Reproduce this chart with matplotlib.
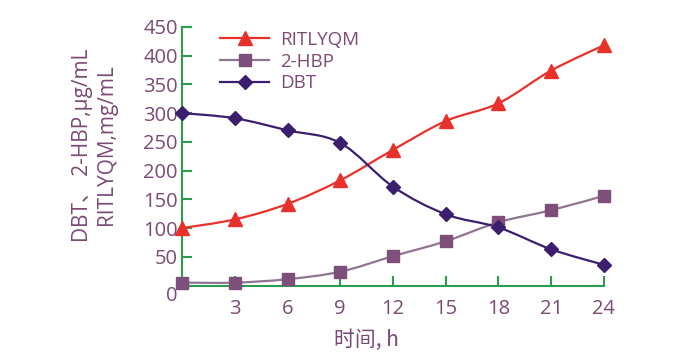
import matplotlib as mpl
import matplotlib.pyplot as plt
import matplotlib.transforms as mtransforms
import numpy as np
from matplotlib.path import Path
from matplotlib.patches import PathPatch

mpl.rcParams["font.family"] = ["Open Sans", "Noto Sans CJK SC", "DejaVu Sans"]
mpl.rcParams["axes.unicode_minus"] = False

hours = [0, 3, 6, 9, 12, 15, 18, 21, 24]
ritlyqm = [100, 115, 142, 183, 236, 286, 317, 374, 418]
hbp = [5, 5, 11, 24, 51, 77, 110, 131, 156]
dbt = [300, 291, 270, 248, 172, 124, 101, 63, 36]
xticks = [3, 6, 9, 12, 15, 18, 21, 24]

txt_color = "#7b4a75"
axis_color = "#2a9d4e"


def smooth_path(x, y, t=0.17):
    # Catmull-Rom style bezier through the points
    x = np.asarray(x, float)
    y = np.asarray(y, float)
    verts = [(x[0], y[0])]
    codes = [Path.MOVETO]
    n = len(x)
    for i in range(n - 1):
        x0, y0 = (x[i - 1], y[i - 1]) if i > 0 else (x[i], y[i])
        x3, y3 = (x[i + 2], y[i + 2]) if i + 2 < n else (x[i + 1], y[i + 1])
        c1 = (x[i] + (x[i + 1] - x0) * t, y[i] + (y[i + 1] - y0) * t)
        c2 = (x[i + 1] - (x3 - x[i]) * t, y[i + 1] - (y3 - y[i]) * t)
        verts += [c1, c2, (x[i + 1], y[i + 1])]
        codes += [Path.CURVE4] * 3
    return Path(verts, codes)


fig = plt.figure(figsize=(6.87, 3.58), dpi=100)
ax = fig.add_axes([0.265, 0.2025, 0.614, 0.7225])

series = [
    ("RITLYQM", ritlyqm, "#e8312a", "#e8312a", "^", 10),
    ("2-HBP", hbp, "#8f7590", "#7d4f7a", "s", 8),
    ("DBT", dbt, "#3b1f6e", "#3b1f6e", "D", 7.5),
]
handles = []
for name, vals, lc, mc, mk, ms in series:
    ax.add_patch(PathPatch(smooth_path(hours, vals), fill=False, edgecolor=lc,
                           lw=1.6, clip_on=False, zorder=2))
    ax.plot(hours, vals, ls="none", marker=mk, ms=ms, color=mc, clip_on=False, zorder=3)
    h, = ax.plot([], [], color=lc, lw=1.6, marker=mk, ms=ms, mfc=mc, mec=mc, label=name)
    handles.append(h)

ax.set_xlim(0, 24)
ax.set_ylim(0, 450)
ax.set_xticks(xticks)
ax.set_yticks(np.arange(0, 451, 50))

for s in ["top", "right"]:
    ax.spines[s].set_visible(False)
for s in ["left", "bottom"]:
    ax.spines[s].set_color(axis_color)
    ax.spines[s].set_linewidth(1.5)

ax.tick_params(axis="both", direction="in", length=7, width=1.5, color=axis_color,
               labelcolor=txt_color, labelsize=14.5)
ax.tick_params(axis="x", pad=10)
ax.tick_params(axis="y", pad=3)

# the "0" label sits a bit lower than its tick
lbl0 = ax.get_yticklabels()[0]
lbl0.set_transform(lbl0.get_transform() + mtransforms.ScaledTranslation(0, -8 / 100, fig.dpi_scale_trans))

fig.text(0.534, 0.05, "时间, h", color=txt_color, fontsize=15, ha="center", va="center",
         family=["Noto Sans CJK SC", "DejaVu Sans"])
fig.text(0.138, 0.595, "DBT、 2-HBP,μg/mL\nRITLYQM,mg/mL", rotation=90, color=txt_color,
         fontsize=15, ha="center", va="center", linespacing=1.2,
         family=["Open Sans", "Noto Sans CJK SC", "DejaVu Sans"])

ax.legend(handles=handles, loc="upper left", bbox_to_anchor=(0.31, 0.935),
          bbox_transform=fig.transFigure, frameon=False, fontsize=13.5,
          labelcolor=txt_color, handlelength=2.6, handletextpad=0.6,
          labelspacing=0.2, borderaxespad=0)

fig.savefig("out.png", dpi=100)
